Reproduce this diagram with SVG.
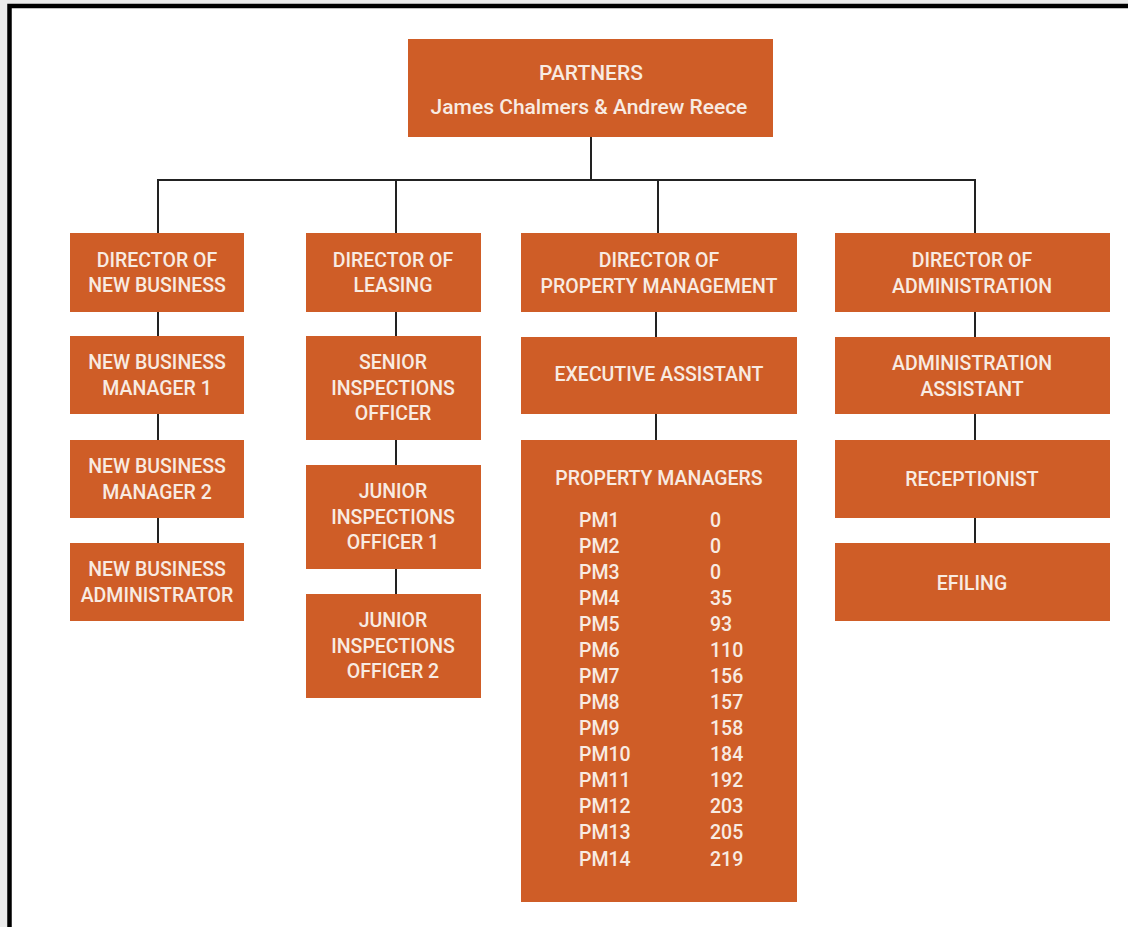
<svg xmlns="http://www.w3.org/2000/svg" width="1128" height="927" viewBox="0 0 1128 927">
<style>
.box{fill:#cf5d27}
.t{font-family:Roboto,"Liberation Sans",sans-serif;font-weight:500;font-size:19.5px;fill:#f8ebe2;text-anchor:middle}
.p{font-size:21px}
.l{font-family:Roboto,"Liberation Sans",sans-serif;font-weight:500;font-size:19.5px;fill:#f8ebe2}
.c{stroke:#222;stroke-width:2;fill:none}
</style>
<rect x="0" y="0" width="1128" height="927" fill="#ebebeb"/>
<rect x="9.5" y="6" width="1135" height="935" fill="#fff" stroke="#000" stroke-width="4.5"/>
<g id="connectors">
<path class="c" d="M591 137V180M157 180H976M158 180V233M396 180V233M658 180V233M975 180V233"/>
<path class="c" d="M158 312V336M158 414V440M158 518V543"/>
<path class="c" d="M396 312V336M396 440V465M396 569V594"/>
<path class="c" d="M656 312V337M656 414V440"/>
<path class="c" d="M975 312V337M975 414V440M975 518V543"/>
</g>
<g id="partners"><rect class="box" x="408" y="39" width="365" height="98"/><text class="t p" x="591" y="80">PARTNERS</text><text class="t p" x="589" y="114">James Chalmers &amp; Andrew Reece</text></g>
<g id="dir-new-business"><rect class="box" x="70" y="233" width="174" height="79"/><text class="t" x="157" y="267">DIRECTOR OF</text><text class="t" x="157" y="292">NEW BUSINESS</text></g>
<g id="nb-manager-1"><rect class="box" x="70" y="336" width="174" height="78"/><text class="t" x="157" y="369">NEW BUSINESS</text><text class="t" x="157" y="395">MANAGER 1</text></g>
<g id="nb-manager-2"><rect class="box" x="70" y="440" width="174" height="78"/><text class="t" x="157" y="473">NEW BUSINESS</text><text class="t" x="157" y="499">MANAGER 2</text></g>
<g id="nb-admin"><rect class="box" x="70" y="543" width="174" height="78"/><text class="t" x="157" y="576">NEW BUSINESS</text><text class="t" x="157" y="602">ADMINISTRATOR</text></g>
<g id="dir-leasing"><rect class="box" x="306" y="233" width="175" height="79"/><text class="t" x="393" y="267">DIRECTOR OF</text><text class="t" x="393" y="292">LEASING</text></g>
<g id="senior-inspections"><rect class="box" x="306" y="336" width="175" height="104"/><text class="t" x="393" y="369">SENIOR</text><text class="t" x="393" y="395">INSPECTIONS</text><text class="t" x="393" y="420">OFFICER</text></g>
<g id="junior-inspections-1"><rect class="box" x="306" y="465" width="175" height="104"/><text class="t" x="393" y="498">JUNIOR</text><text class="t" x="393" y="524">INSPECTIONS</text><text class="t" x="393" y="549">OFFICER 1</text></g>
<g id="junior-inspections-2"><rect class="box" x="306" y="594" width="175" height="104"/><text class="t" x="393" y="627">JUNIOR</text><text class="t" x="393" y="653">INSPECTIONS</text><text class="t" x="393" y="678">OFFICER 2</text></g>
<g id="dir-property"><rect class="box" x="521" y="233" width="276" height="79"/><text class="t" x="659" y="267">DIRECTOR OF</text><text class="t" x="659" y="293">PROPERTY MANAGEMENT</text></g>
<g id="exec-assistant"><rect class="box" x="521" y="337" width="276" height="77"/><text class="t" x="659" y="381">EXECUTIVE ASSISTANT</text></g>
<g id="property-managers"><rect class="box" x="521" y="440" width="276" height="462"/><text class="t" x="659" y="485">PROPERTY MANAGERS</text>
<g class="l">
<text x="579" y="527">PM1</text><text x="710" y="527">0</text>
<text x="579" y="553">PM2</text><text x="710" y="553">0</text>
<text x="579" y="579">PM3</text><text x="710" y="579">0</text>
<text x="579" y="605">PM4</text><text x="710" y="605">35</text>
<text x="579" y="631">PM5</text><text x="710" y="631">93</text>
<text x="579" y="657">PM6</text><text x="710" y="657">110</text>
<text x="579" y="683">PM7</text><text x="710" y="683">156</text>
<text x="579" y="709">PM8</text><text x="710" y="709">157</text>
<text x="579" y="735">PM9</text><text x="710" y="735">158</text>
<text x="579" y="761">PM10</text><text x="710" y="761">184</text>
<text x="579" y="787">PM11</text><text x="710" y="787">192</text>
<text x="579" y="813">PM12</text><text x="710" y="813">203</text>
<text x="579" y="839">PM13</text><text x="710" y="839">205</text>
<text x="579" y="866">PM14</text><text x="710" y="866">219</text>
</g></g>
<g id="dir-admin"><rect class="box" x="835" y="233" width="275" height="79"/><text class="t" x="972" y="267">DIRECTOR OF</text><text class="t" x="972" y="293">ADMINISTRATION</text></g>
<g id="admin-assistant"><rect class="box" x="835" y="337" width="275" height="77"/><text class="t" x="972" y="370">ADMINISTRATION</text><text class="t" x="972" y="396">ASSISTANT</text></g>
<g id="receptionist"><rect class="box" x="835" y="440" width="275" height="78"/><text class="t" x="972" y="486">RECEPTIONIST</text></g>
<g id="efiling"><rect class="box" x="835" y="543" width="275" height="78"/><text class="t" x="972" y="590">EFILING</text></g>
</svg>
